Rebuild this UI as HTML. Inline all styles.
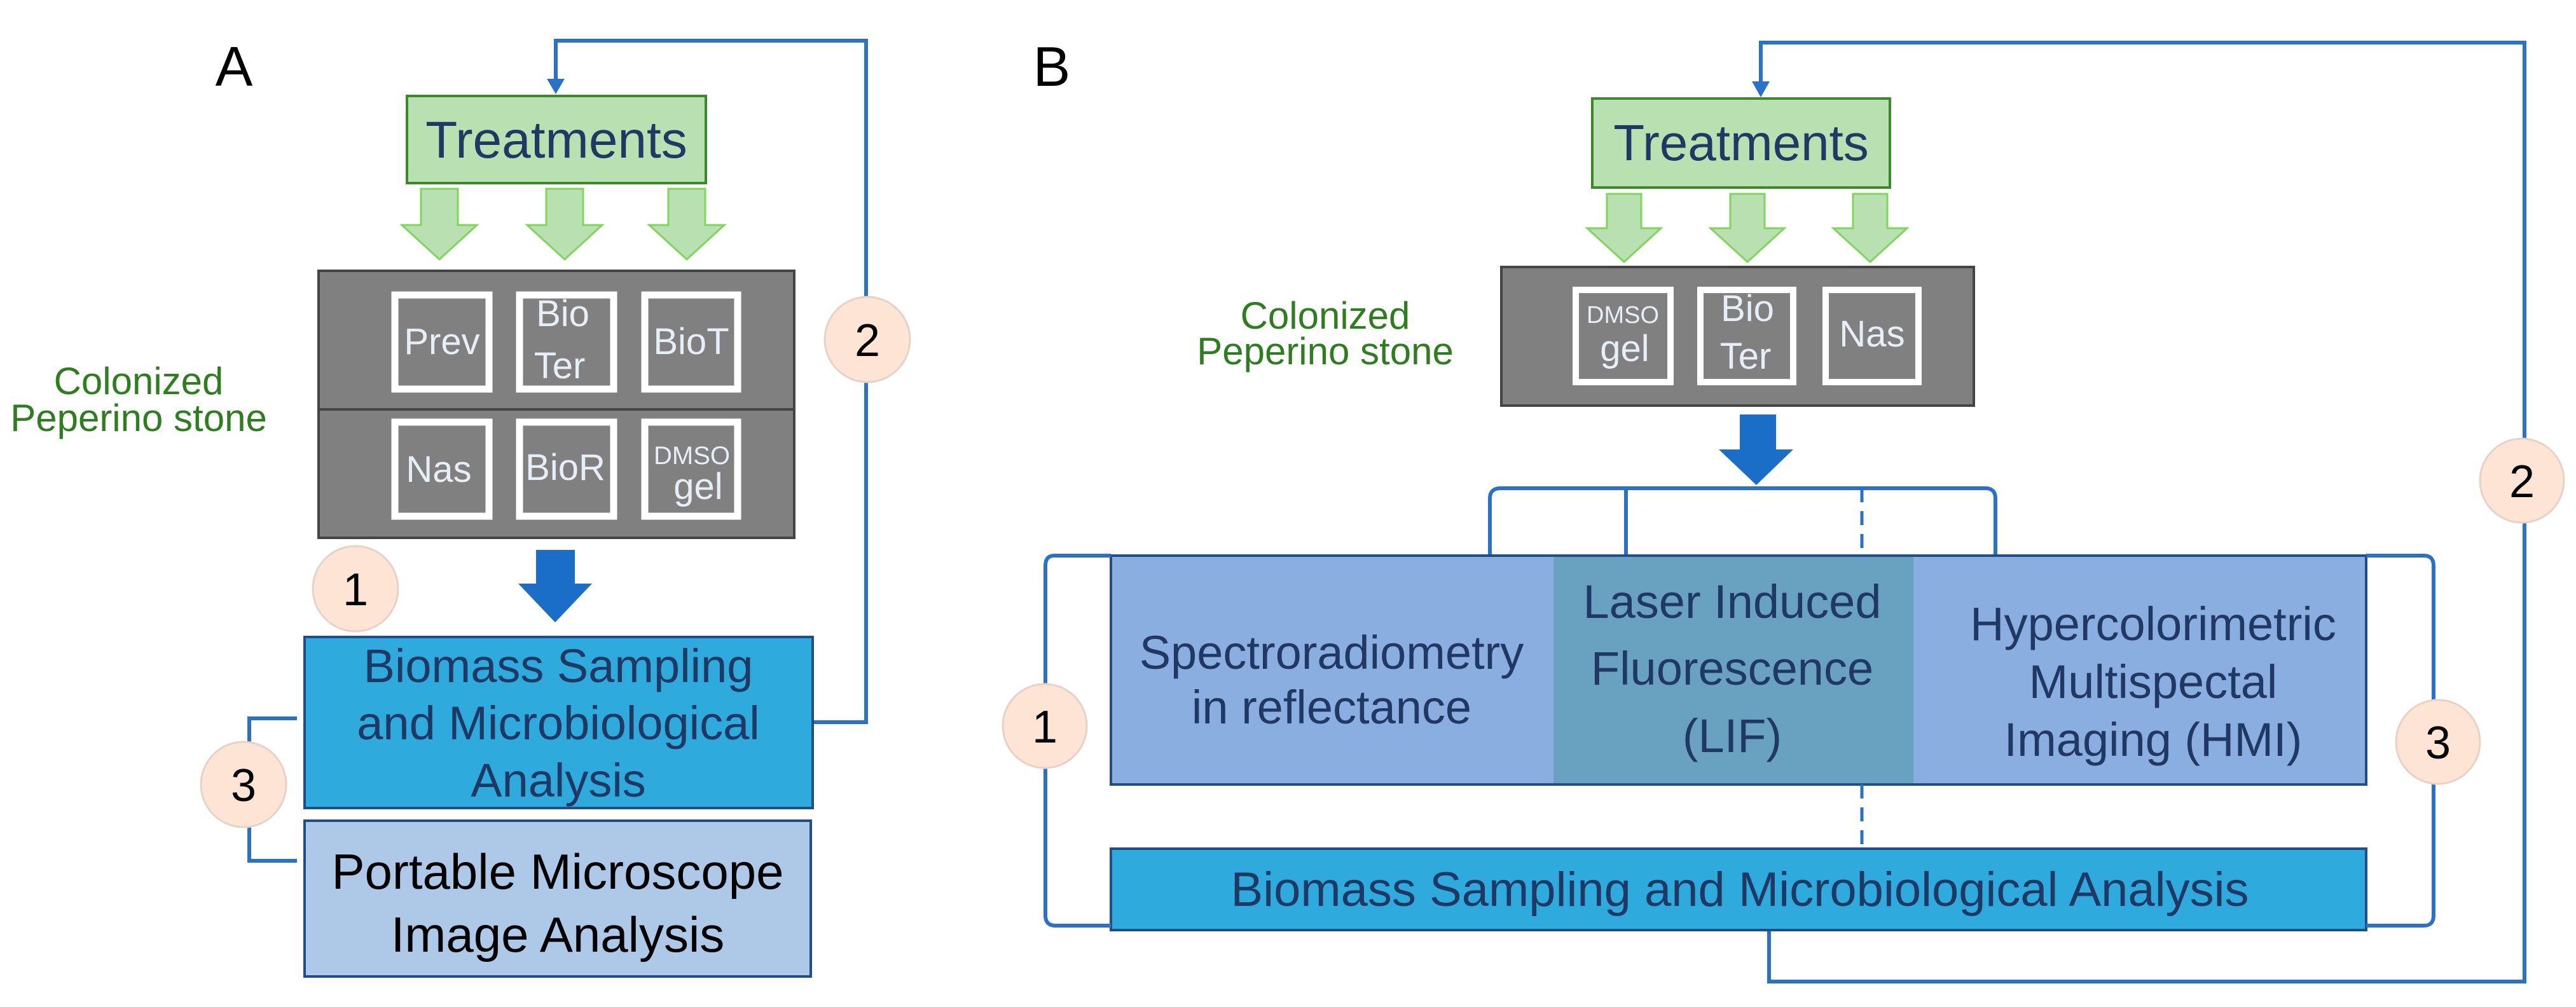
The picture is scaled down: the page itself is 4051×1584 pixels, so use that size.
<!DOCTYPE html>
<html><head><meta charset="utf-8"><style>html,body{margin:0;padding:0;background:#fff}svg{display:block}</style></head>
<body>
<svg width="4051" height="1584" viewBox="0 0 4051 1584" xmlns="http://www.w3.org/2000/svg" font-family="Liberation Sans, sans-serif">
<rect width="4051" height="1584" fill="#fff"/>

<!-- ================= PANEL A ================= -->
<text x="368" y="135" font-size="88" text-anchor="middle" fill="#000">A</text>
<polyline points="1278,1136 1362,1136 1362,64 874,64 874,128" fill="none" stroke="#2a72c8" stroke-width="6"/>
<path d="M860,124 L888,124 L874,148 z" fill="#2a72c8"/>
<rect x="640" y="151" width="470" height="137" fill="#b9e0b0" stroke="#3a8a2a" stroke-width="4"/>
<text x="875" y="248" font-size="82" text-anchor="middle" fill="#1f3864">Treatments</text>
<g fill="#b9e0b0" stroke="#7fd65a" stroke-width="3">
<path d="M662,297 H720 V354 H750 L691,408 L632,354 H662 Z"/>
<path d="M859,297 H917 V354 H947 L888,408 L829,354 H859 Z"/>
<path d="M1051,297 H1109 V354 H1139 L1080,408 L1021,354 H1051 Z"/>
</g>
<rect x="501" y="426" width="748" height="420" fill="#808080" stroke="#444" stroke-width="4"/>
<line x1="501" y1="644" x2="1249" y2="644" stroke="#444" stroke-width="4"/>
<g fill="#808080" stroke="#fff" stroke-width="11">
<rect x="621" y="464" width="148" height="148"/>
<rect x="817" y="464" width="148" height="148"/>
<rect x="1014" y="464" width="146" height="148"/>
<rect x="621" y="664" width="148" height="148"/>
<rect x="817" y="664" width="148" height="148"/>
<rect x="1014" y="664" width="146" height="148"/>
</g>
<g fill="#e6eef6" font-size="58" text-anchor="middle">
<text x="695" y="557">Prev</text>
<text x="885" y="513">Bio</text>
<text x="880" y="595">Ter</text>
<text x="1087" y="557">BioT</text>
<text x="690" y="758">Nas</text>
<text x="889" y="755">BioR</text>
<text x="1088" y="730" font-size="40">DMSO</text>
<text x="1098" y="785">gel</text>
</g>
<text x="218" y="620" font-size="60" text-anchor="middle" fill="#2e7d1e">Colonized</text>
<text x="218" y="678" font-size="60" text-anchor="middle" fill="#2e7d1e">Peperino stone</text>
<path d="M843,865 H904 V918 H931 L873,979 L815,918 H843 Z" fill="#1a6ec8"/>
<circle cx="559" cy="926" r="67" fill="#fde4d4" stroke="#e6d2c6" stroke-width="3"/>
<text x="559" y="952" font-size="72" text-anchor="middle" fill="#000">1</text>
<circle cx="1364" cy="534" r="67" fill="#fde4d4" stroke="#e6d2c6" stroke-width="3"/>
<text x="1364" y="560" font-size="72" text-anchor="middle" fill="#000">2</text>
<rect x="479" y="1002" width="799" height="269" fill="#2eaadc" stroke="#1f4e8c" stroke-width="4"/>
<g font-size="74" text-anchor="middle" fill="#1f3864">
<text x="878" y="1073">Biomass Sampling</text>
<text x="878" y="1163">and Microbiological</text>
<text x="878" y="1253">Analysis</text>
</g>
<rect x="479" y="1291" width="796" height="245" fill="#aec8e8" stroke="#1f4e8c" stroke-width="4"/>
<g font-size="78" text-anchor="middle" fill="#000">
<text x="877" y="1398">Portable Microscope</text>
<text x="877" y="1497">Image Analysis</text>
</g>
<polyline points="467,1130 392,1130 392,1354 467,1354" fill="none" stroke="#2a72c8" stroke-width="6"/>
<circle cx="383" cy="1234" r="67" fill="#fde4d4" stroke="#e6d2c6" stroke-width="3"/>
<text x="383" y="1260" font-size="72" text-anchor="middle" fill="#000">3</text>

<!-- ================= PANEL B ================= -->
<text x="1654" y="135" font-size="88" text-anchor="middle" fill="#000">B</text>
<polyline points="2782,1463 2782,1544 3970,1544 3970,67 2769,67 2769,132" fill="none" stroke="#2a72c8" stroke-width="6"/>
<path d="M2755,128 L2783,128 L2769,153 z" fill="#2a72c8"/>
<rect x="2504" y="155" width="468" height="140" fill="#b9e0b0" stroke="#3a8a2a" stroke-width="4"/>
<text x="2738" y="252" font-size="80" text-anchor="middle" fill="#1f3864">Treatments</text>
<g fill="#b9e0b0" stroke="#7fd65a" stroke-width="3">
<path d="M2527,305 H2581 V359 H2612 L2554,412 L2496,359 H2527 Z"/>
<path d="M2721,305 H2775 V359 H2806 L2748,412 L2690,359 H2721 Z"/>
<path d="M2914,305 H2968 V359 H2999 L2941,412 L2883,359 H2914 Z"/>
</g>
<rect x="2361" y="420" width="743" height="218" fill="#808080" stroke="#444" stroke-width="4"/>
<g fill="#808080" stroke="#fff" stroke-width="10">
<rect x="2478" y="456" width="149" height="145"/>
<rect x="2674" y="456" width="146" height="145"/>
<rect x="2871" y="456" width="146" height="145"/>
</g>
<g fill="#e6eef6" font-size="58" text-anchor="middle">
<text x="2552" y="508" font-size="38">DMSO</text>
<text x="2555" y="568">gel</text>
<text x="2748" y="505">Bio</text>
<text x="2745" y="580">Ter</text>
<text x="2944" y="545">Nas</text>
</g>
<text x="2084" y="517" font-size="60" text-anchor="middle" fill="#2e7d1e">Colonized</text>
<text x="2084" y="573" font-size="60" text-anchor="middle" fill="#2e7d1e">Peperino stone</text>
<path d="M2736,652 H2793 V707 H2820 L2762,763 L2703,707 H2736 Z" fill="#1a6ec8"/>
<g fill="none" stroke="#2a72c8" stroke-width="6">
<path d="M2343,874 V784 Q2343,768 2360,768 H3122 Q3138,768 3138,784 V874"/>
<line x1="2557" y1="768" x2="2557" y2="874"/>
</g>
<line x1="2928" y1="768" x2="2928" y2="874" stroke="#2a72c8" stroke-width="5" stroke-dasharray="22,14"/>
<rect x="1747" y="874" width="696" height="360" fill="#8aaee0"/>
<rect x="2443" y="874" width="566" height="360" fill="#69a2c0"/>
<rect x="3009" y="874" width="712" height="360" fill="#8aaee0"/>
<rect x="1747" y="874" width="1974" height="360" fill="none" stroke="#1f4e8c" stroke-width="4"/>
<g font-size="74" text-anchor="middle" fill="#1f3864">
<text x="2094" y="1052">Spectroradiometry</text>
<text x="2094" y="1138">in reflectance</text>
<text x="2724" y="972">Laser Induced</text>
<text x="2724" y="1077">Fluorescence</text>
<text x="2724" y="1183">(LIF)</text>
<text x="3386" y="1007">Hypercolorimetric</text>
<text x="3386" y="1098">Multispectal</text>
<text x="3386" y="1189">Imaging (HMI)</text>
</g>
<line x1="2928" y1="1234" x2="2928" y2="1335" stroke="#2a72c8" stroke-width="5" stroke-dasharray="22,14"/>
<rect x="1747" y="1335" width="1974" height="128" fill="#2eaadc" stroke="#1f4e8c" stroke-width="4"/>
<text x="2736" y="1425" font-size="76" text-anchor="middle" fill="#1f3864">Biomass Sampling and Microbiological Analysis</text>
<g fill="none" stroke="#2a72c8" stroke-width="6">
<path d="M1747,874 H1658 Q1644,874 1644,890 V1440 Q1644,1456 1660,1456 H1747"/>
<path d="M3721,874 H3812 Q3827,874 3827,890 V1440 Q3827,1456 3812,1456 H3721"/>
</g>
<circle cx="1643" cy="1142" r="66" fill="#fde4d4" stroke="#e6d2c6" stroke-width="3"/>
<text x="1643" y="1168" font-size="72" text-anchor="middle" fill="#000">1</text>
<circle cx="3834" cy="1167" r="66" fill="#fde4d4" stroke="#e6d2c6" stroke-width="3"/>
<text x="3834" y="1193" font-size="72" text-anchor="middle" fill="#000">3</text>
<circle cx="3966" cy="756" r="66" fill="#fde4d4" stroke="#e6d2c6" stroke-width="3"/>
<text x="3966" y="782" font-size="72" text-anchor="middle" fill="#000">2</text>
</svg>
</body></html>
